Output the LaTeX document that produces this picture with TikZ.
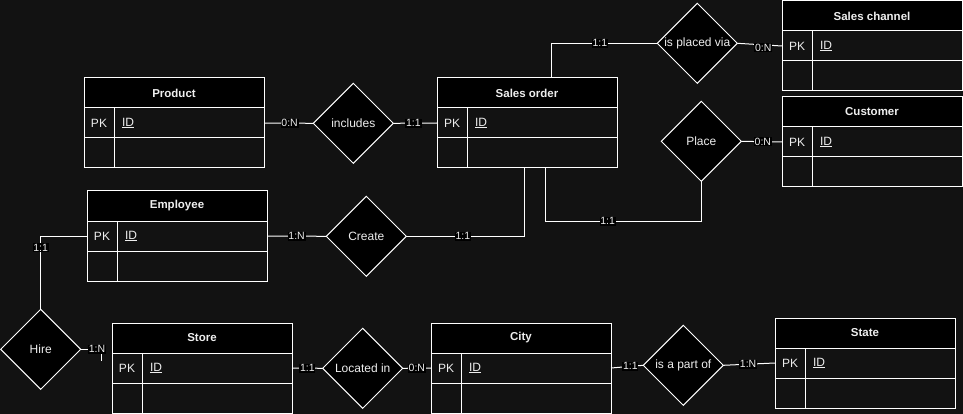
\documentclass[tikz,border=0pt]{standalone}
\usepackage{fontspec}
\setmainfont{Liberation Sans}
\usetikzlibrary{shapes.geometric}

\definecolor{bg}{HTML}{121212}
\definecolor{ink}{HTML}{EEEEEE}

\tikzset{
  cell/.style={draw=white, line width=1pt, outer sep=0pt, inner sep=0pt,
    minimum height=30pt, text=ink, font=\fontsize{12}{14}\selectfont},
  hdr/.style={cell, fill=black, minimum width=180pt,
    font=\bfseries\fontsize{11.5}{14}\selectfont},
  pkcell/.style={cell, minimum width=30pt},
  idcell/.style={cell, minimum width=150pt, text width=134pt, inner xsep=8pt, align=left},
  rel/.style={diamond, aspect=1, draw=white, fill=black, line width=1pt, outer sep=0pt,
    inner sep=0pt, minimum width=80pt, minimum height=80pt, text=ink,
    font=\fontsize{12}{14}\selectfont},
  link/.style={draw=white, line width=1pt},
  card/.style={fill=black, text=ink, inner sep=0.8pt, font=\fontsize{10.5}{12}\selectfont},
}

% entity box: name, x, y, title
\newcommand{\ertable}[4]{%
  \node[hdr, anchor=north west] (#1) at (#2,#3) {#4};
  \node[pkcell, anchor=north west] (#1-pk) at (#1.south west) {PK};
  \node[idcell, anchor=north west] (#1-id) at (#1-pk.north east) {\underline{ID}};
  \node[pkcell, anchor=north west] (#1-e1) at (#1-pk.south west) {};
  \node[idcell, anchor=north west] (#1-e2) at (#1-e1.north east) {};
}

\begin{document}
\begin{tikzpicture}[x=1pt, y=-1pt]
  \useasboundingbox (0,0) rectangle (963,414);
  \fill[bg] (0,0) rectangle (963,414);

  \ertable{prod}{84}{78}{Product}
  \ertable{emp}{87}{191}{Employee}
  \ertable{order}{437}{78}{Sales order}
  \ertable{chan}{782}{1}{Sales channel}
  \ertable{cust}{782}{97}{Customer}
  \ertable{store}{112}{323}{Store}
  \ertable{city}{431}{323}{City}
  \ertable{state}{775}{318}{State}

  \node[rel] (incl) at (353.3,123.3) {includes};
  \node[rel] (crt) at (366.3,236.3) {Create};
  \node[rel] (via) at (697.3,43.3) {is placed via};
  \node[rel] (place) at (701.3,141.3) {Place};
  \node[rel] (hire) at (40.7,349.3) {Hire};
  \node[rel] (loc) at (362.7,368.3) {Located in};
  \node[rel] (part) at (683.3,365.3) {is a part of};

  \coordinate (o1) at (524,168);
  \coordinate (o2) at (551,78);
  \coordinate (o3) at (545.3,168);
  \coordinate (b3) at (545.3,221.3);
  \coordinate (h1) at (101,361);

  \draw[link] (prod-id.east) -- node[card, pos=0.52] {0:N} (incl.west);
  \draw[link] (incl.east) -- node[card, pos=0.46] {1:1} (order-pk.west);
  \draw[link] (emp-id.east) -- node[card, pos=0.5] {1:N} (crt.west);
  \draw[link] (crt.east) -- node[card, pos=0.48] {1:1} (crt.east -| o1) -- (o1);
  \draw[link] (o2) |- node[card, pos=0.73] {1:1} (via.west);
  \draw[link] (via.east) -- node[card, pos=0.58, yshift=-3pt] {0:N} (chan-pk.west);
  \draw[link] (place.south) |- node[card, pos=0.8] {1:1} (b3) -- (o3);
  \draw[link] (place.east) -- node[card, pos=0.53] {0:N} (cust-pk.west);
  \draw[link] (emp-pk.west) -| node[card, pos=0.58] {1:1} (hire.north);
  \draw[link] (hire.east) -| node[card, pos=0.4] {1:N} (h1);
  \draw[link] (store-id.east) -- node[card, pos=0.5] {1:1} (loc.west);
  \draw[link] (loc.east) -- node[card, pos=0.5] {0:N} (city-pk.west);
  \draw[link] (city-id.east) -- node[card, pos=0.6] {1:1} (part.west);
  \draw[link] (part.east) -- node[card, pos=0.48] {1:N} (state-pk.west);
\end{tikzpicture}
\end{document}
